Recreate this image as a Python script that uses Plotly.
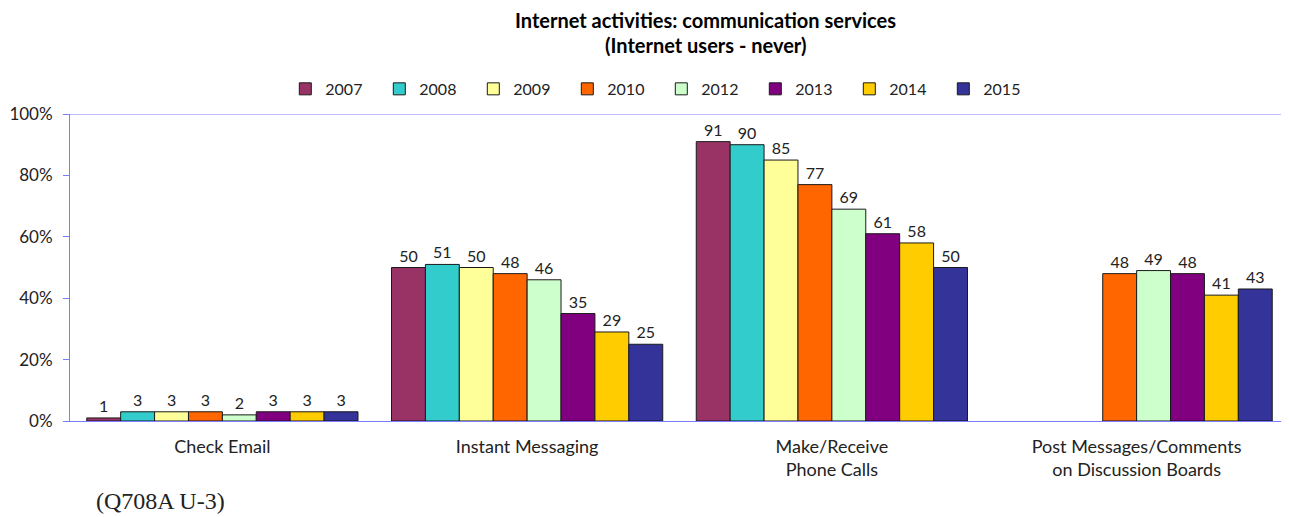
import plotly.graph_objects as go

categories = ['Check Email', 'Instant Messaging', 'Make/Receive<br>Phone Calls',
              'Post Messages/Comments<br>on Discussion Boards']
years = ['2007', '2008', '2009', '2010', '2012', '2013', '2014', '2015']
values = {
    '2007': [1, 50, 91, None],
    '2008': [3, 51, 90, None],
    '2009': [3, 50, 85, None],
    '2010': [3, 48, 77, 48],
    '2012': [2, 46, 69, 49],
    '2013': [3, 35, 61, 48],
    '2014': [3, 29, 58, 41],
    '2015': [3, 25, 50, 43],
}
y_ticks = [0, 20, 40, 60, 80, 100]
y_ticktext = ['0%', '20%', '40%', '60%', '80%', '100%']

colors = {
    '2007': '#993366',
    '2008': '#33CCCC',
    '2009': '#FFFF99',
    '2010': '#FF6600',
    '2012': '#CCFFCC',
    '2013': '#800080',
    '2014': '#FFCC00',
    '2015': '#333399',
}

font = 'Lato, Open Sans, sans-serif'

fig = go.Figure()
for yr in years:
    vals = values[yr]
    fig.add_trace(go.Bar(
        x=categories,
        y=vals,
        name=yr,
        marker=dict(color=colors[yr], line=dict(color='#1a1a1a', width=1)),
        text=[str(v) if v is not None else '' for v in vals],
        textposition='outside',
        textfont=dict(size=16, color='#222222', family=font),
        cliponaxis=False,
    ))

# page body adds an 8px offset, so the figure is 8px smaller and margins shifted
fig.update_layout(
    width=1281, height=509,
    barmode='group',
    bargap=0.11,
    bargroupgap=0,
    plot_bgcolor='white',
    paper_bgcolor='white',
    margin=dict(l=62, r=0, t=106, b=96),
    font=dict(family=font, size=15, color='#222222'),
    legend=dict(
        orientation='h', x=0.510, xanchor='center', y=0.841, yanchor='middle',
        xref='container', yref='container',
        font=dict(size=16, color='#222222', family=font),
        entrywidth=49,
        traceorder='normal',
    ),
    showlegend=True,
)

fig.update_yaxes(
    range=[0, 100], tickvals=y_ticks, ticktext=y_ticktext,
    showgrid=False, showline=True, linecolor='#7B7BFF', linewidth=1,
    ticks='outside', tickcolor='#7B7BFF', ticklen=6, ticklabelstandoff=7,
    tickfont=dict(size=17, color='#222222'),
    automargin=False,
)
fig.update_xaxes(
    showline=True, linecolor='#7B7BFF', linewidth=1,
    tickfont=dict(size=18, color='#222222'), ticks='', ticklabelstandoff=9,
    automargin=False,
)
# top border line at 100%
fig.add_hline(y=100, line_color='#7B7BFF', line_width=1)

fig.add_annotation(
    text='<b>Internet activities: communication services</b>',
    xref='paper', yref='paper', x=0.521, y=1.306,
    xanchor='center', yanchor='middle', showarrow=False,
    font=dict(size=20, color='black', family=font),
)
fig.add_annotation(
    text='<b>(Internet users - never)</b>',
    xref='paper', yref='paper', x=0.521, y=1.225,
    xanchor='center', yanchor='middle', showarrow=False,
    font=dict(size=20, color='black', family=font),
)
fig.add_annotation(
    text='(Q708A U-3)', xref='paper', yref='paper',
    x=0.020, y=-0.262, xanchor='left', yanchor='middle', showarrow=False,
    font=dict(family='Liberation Serif, serif', size=24, color='#222222'),
)

fig.write_html('out.html')
